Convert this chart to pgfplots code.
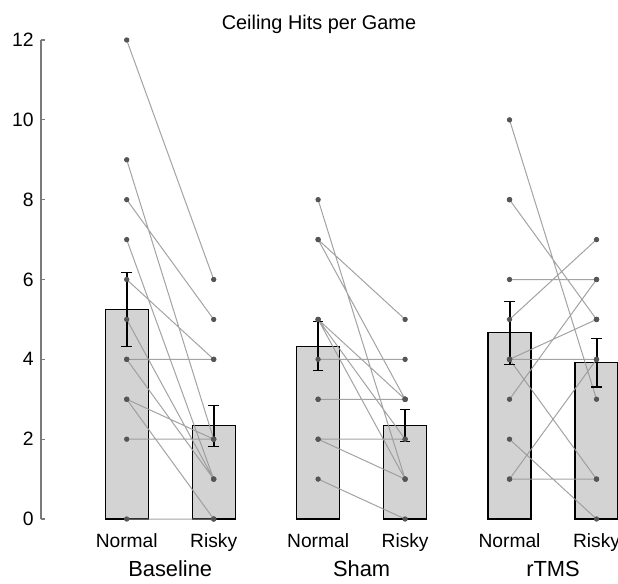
\documentclass[border=0pt]{standalone}
\usepackage{pgfplots}
\pgfplotsset{compat=1.18}
\usepackage{fontspec}
\setmainfont{Liberation Sans}
\definecolor{barfill}{HTML}{D3D3D3}
\definecolor{linegray}{HTML}{999999}
\definecolor{dotgray}{HTML}{555555}
\definecolor{axgray}{HTML}{7A7A7A}
\begin{document}
\begin{tikzpicture}
\begin{axis}[
  scale only axis,
  width=432.75pt, height=359.25pt,
  xmin=-0.985, xmax=5.647,
  ymin=0, ymax=12,
  clip=false,
  axis y line*=left,
  axis x line*=bottom,
  x axis line style={draw=none},
  y axis line style={draw=axgray, line width=1pt},
  ytick={0,2,4,6,8,10,12},
  tick align=inside,
  major tick length=3pt,
  ytick style={draw=axgray, line width=0.8pt},
  xtick style={draw=none},
  xtick={0,1,2.2,3.2,4.4,5.4},
  xticklabels={Normal,Risky,Normal,Risky,Normal,Risky},
  /pgf/number format/assume math mode=true,
  yticklabel style={font=\fontsize{14.5pt}{16pt}\selectfont, xshift=-2pt},
  xticklabel style={font=\fontsize{14.4pt}{16pt}\selectfont, anchor=base, yshift=-21pt},
  extra x ticks={0.5,2.7,4.9},
  extra x tick labels={Baseline,Sham,rTMS},
  extra x tick style={xtick style={draw=none}, xticklabel style={font=\fontsize{16.4pt}{18pt}\selectfont, anchor=base, yshift=-22pt}},
]
% bars
\addplot[ybar, bar width=0.494, fill=barfill, draw=black, line width=0.8pt]
  coordinates {(0,5.25) (1,2.333) (2.2,4.333) (3.2,2.333) (4.4,4.667) (5.4,3.917)};
% Baseline subjects
\addplot[linegray, line width=0.75pt, opacity=0.9, unbounded coords=jump, mark=*, mark size=1.6pt, mark options={fill=dotgray, draw=dotgray, opacity=1}]
  coordinates {
  (0,12) (1,6) (nan,nan)
  (0,9) (1,2) (nan,nan)
  (0,8) (1,5) (nan,nan)
  (0,7) (1,1) (nan,nan)
  (0,6) (1,4) (nan,nan)
  (0,5) (1,1) (nan,nan)
  (0,4) (1,4) (nan,nan)
  (0,4) (1,1) (nan,nan)
  (0,3) (1,2) (nan,nan)
  (0,3) (1,0) (nan,nan)
  (0,2) (1,2) (nan,nan)
  (0,0) (1,0)
  };
% Sham subjects
\addplot[linegray, line width=0.75pt, opacity=0.9, unbounded coords=jump, mark=*, mark size=1.6pt, mark options={fill=dotgray, draw=dotgray, opacity=1}]
  coordinates {
  (2.2,8) (3.2,1) (nan,nan)
  (2.2,7) (3.2,5) (nan,nan)
  (2.2,7) (3.2,3) (nan,nan)
  (2.2,5) (3.2,3) (nan,nan)
  (2.2,5) (3.2,2) (nan,nan)
  (2.2,5) (3.2,1) (nan,nan)
  (2.2,4) (3.2,4) (nan,nan)
  (2.2,3) (3.2,3) (nan,nan)
  (2.2,3) (3.2,3) (nan,nan)
  (2.2,2) (3.2,2) (nan,nan)
  (2.2,2) (3.2,1) (nan,nan)
  (2.2,1) (3.2,0)
  };
% rTMS subjects
\addplot[linegray, line width=0.75pt, opacity=0.9, unbounded coords=jump, mark=*, mark size=1.6pt, mark options={fill=dotgray, draw=dotgray, opacity=1}]
  coordinates {
  (4.4,10) (5.4,3) (nan,nan)
  (4.4,8) (5.4,5) (nan,nan)
  (4.4,8) (5.4,5) (nan,nan)
  (4.4,6) (5.4,6) (nan,nan)
  (4.4,5) (5.4,7) (nan,nan)
  (4.4,4) (5.4,5) (nan,nan)
  (4.4,4) (5.4,4) (nan,nan)
  (4.4,4) (5.4,1) (nan,nan)
  (4.4,3) (5.4,6) (nan,nan)
  (4.4,2) (5.4,0) (nan,nan)
  (4.4,1) (5.4,4) (nan,nan)
  (4.4,1) (5.4,1)
  };
% error bars
\addplot[draw=none, mark=none,
  error bars/.cd, y dir=both, y explicit,
  error bar style={draw=black, line width=1.5pt},
  error mark options={rotate=90, draw=black, line width=0.8pt, mark size=4pt}]
  coordinates {
  (0,5.25) +- (0,0.92)
  (1,2.333) +- (0,0.52)
  (2.2,4.333) +- (0,0.62)
  (3.2,2.333) +- (0,0.40)
  (4.4,4.667) +- (0,0.79)
  (5.4,3.917) +- (0,0.61)
  };
\node[anchor=base, font=\fontsize{14.9pt}{16pt}\selectfont] at (axis cs:2.21,12) [yshift=8.25pt] {Ceiling Hits per Game};
\end{axis}
\pgfresetboundingbox
\useasboundingbox ([shift={(-30.75pt,-48pt)}]current axis.south west) rectangle ([shift={(0pt,30pt)}]current axis.north east);
\end{tikzpicture}
\end{document}
